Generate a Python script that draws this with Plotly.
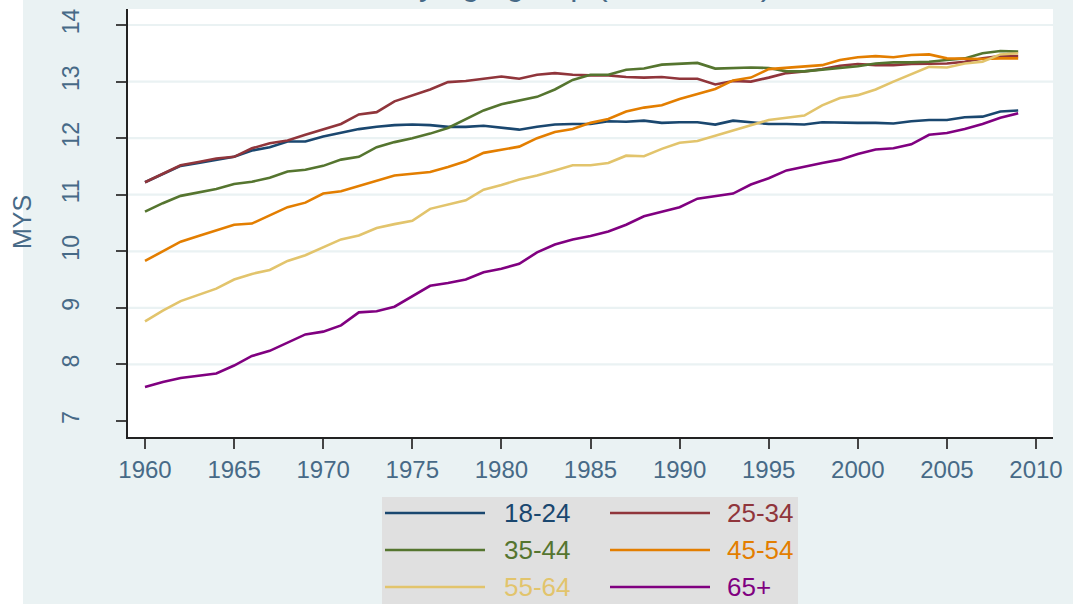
import plotly.graph_objects as go

years = list(range(1960, 2010))

age_groups = ["18-24", "25-34", "35-44", "45-54", "55-64", "65+"]
colors = ["#1A476F", "#90353B", "#55752F", "#E37E00", "#E2C46C", "#800080"]

mys_18_24 = [11.22, 11.37, 11.51, 11.56, 11.61, 11.67, 11.78, 11.84, 11.94, 11.94,
             12.03, 12.10, 12.16, 12.20, 12.23, 12.24, 12.23, 12.20, 12.20, 12.22,
             12.18, 12.15, 12.20, 12.24, 12.25, 12.25, 12.30, 12.29, 12.31, 12.27,
             12.28, 12.28, 12.24, 12.31, 12.28, 12.25, 12.25, 12.24, 12.28, 12.27,
             12.27, 12.27, 12.26, 12.30, 12.32, 12.32, 12.37, 12.38, 12.47, 12.49]
mys_25_34 = [11.22, 11.37, 11.52, 11.58, 11.64, 11.67, 11.82, 11.91, 11.96, 12.06,
             12.16, 12.25, 12.42, 12.46, 12.65, 12.75, 12.86, 12.99, 13.01, 13.05,
             13.09, 13.05, 13.12, 13.15, 13.12, 13.11, 13.11, 13.08, 13.07, 13.08,
             13.05, 13.05, 12.95, 13.01, 13.00, 13.07, 13.15, 13.18, 13.22, 13.28,
             13.31, 13.29, 13.29, 13.31, 13.31, 13.32, 13.35, 13.41, 13.45, 13.45]
mys_35_44 = [10.70, 10.85, 10.98, 11.04, 11.10, 11.19, 11.23, 11.30, 11.41, 11.44,
             11.51, 11.62, 11.67, 11.84, 11.93, 12.00, 12.08, 12.18, 12.33, 12.49,
             12.60, 12.66, 12.73, 12.86, 13.03, 13.12, 13.12, 13.21, 13.23, 13.30,
             13.31, 13.33, 13.23, 13.24, 13.25, 13.24, 13.18, 13.18, 13.21, 13.24,
             13.27, 13.32, 13.34, 13.34, 13.35, 13.38, 13.41, 13.50, 13.54, 13.53]
mys_45_54 = [9.83, 10.00, 10.17, 10.27, 10.37, 10.47, 10.49, 10.63, 10.78, 10.86,
             11.02, 11.06, 11.15, 11.25, 11.34, 11.37, 11.40, 11.49, 11.59, 11.74,
             11.80, 11.85, 12.00, 12.11, 12.16, 12.27, 12.34, 12.47, 12.54, 12.58,
             12.69, 12.78, 12.87, 13.02, 13.07, 13.22, 13.24, 13.26, 13.29, 13.38,
             13.43, 13.45, 13.43, 13.47, 13.48, 13.41, 13.40, 13.40, 13.41, 13.41]
mys_55_64 = [8.76, 8.95, 9.12, 9.23, 9.34, 9.50, 9.60, 9.67, 9.83, 9.93,
             10.07, 10.21, 10.28, 10.41, 10.48, 10.54, 10.75, 10.83, 10.90, 11.09,
             11.17, 11.27, 11.34, 11.43, 11.52, 11.52, 11.56, 11.69, 11.68, 11.81,
             11.92, 11.95, 12.04, 12.13, 12.23, 12.32, 12.36, 12.40, 12.58, 12.71,
             12.76, 12.86, 13.00, 13.13, 13.26, 13.25, 13.32, 13.35, 13.48, 13.50]
mys_65_plus = [7.60, 7.69, 7.76, 7.80, 7.84, 7.98, 8.15, 8.24, 8.38, 8.53,
               8.58, 8.69, 8.92, 8.94, 9.02, 9.20, 9.39, 9.44, 9.50, 9.63,
               9.69, 9.78, 9.98, 10.12, 10.21, 10.27, 10.35, 10.47, 10.62, 10.70,
               10.78, 10.93, 10.97, 11.02, 11.18, 11.29, 11.43, 11.50, 11.56, 11.62,
               11.72, 11.80, 11.82, 11.89, 12.06, 12.09, 12.16, 12.25, 12.36, 12.44]

series = [mys_18_24, mys_25_34, mys_35_44, mys_45_54, mys_55_64, mys_65_plus]

x_ticks = [1960, 1965, 1970, 1975, 1980, 1985, 1990, 1995, 2000, 2005, 2010]
y_ticks = [7, 8, 9, 10, 11, 12, 13, 14]

title_text = "MYS by age group (1960-2009)"
y_title = "MYS"

# ---- layout geometry (pixels) ----
W, H = 1073, 604
L, R, T, B = 128, 1053, 9, 437
BG = "#EAF2F3"
TXT = "#476A87"
FONT = "Liberation Sans, Arial, sans-serif"


def px(xp):
    return (xp - L) / (R - L)


def py(yp):
    return (B - yp) / (B - T)


fig = go.Figure()
for name, vals, col in zip(age_groups, series, colors):
    fig.add_trace(go.Scatter(x=years, y=vals, mode="lines", name=name,
                             line=dict(color=col, width=2.6), showlegend=False))

shapes = []
# white strip at far left (outside the graph region)
shapes.append(dict(type="rect", xref="paper", yref="paper",
                   x0=px(-20), x1=px(23), y0=py(H + 20), y1=py(-20),
                   fillcolor="white", line=dict(width=0), layer="below"))
# horizontal gridlines (not at the bottom tick)
for v in y_ticks[1:]:
    shapes.append(dict(type="line", xref="paper", yref="y", x0=0, x1=1, y0=v, y1=v,
                       line=dict(color=BG, width=2.2), layer="below"))

# legend box
shapes.append(dict(type="rect", xref="paper", yref="paper",
                   x0=px(382), x1=px(798), y0=py(640), y1=py(497),
                   fillcolor="#E0E0E0", line=dict(width=0), layer="below"))

annotations = []
row_y = [513, 550, 587]
col_line = [(385, 485, 502), (610, 710, 725)]
for i, (name, col) in enumerate(zip(age_groups, colors)):
    r, c = divmod(i, 2)
    x0, x1, xt = col_line[c]
    yy = py(row_y[r])
    shapes.append(dict(type="line", xref="paper", yref="paper",
                       x0=px(x0), x1=px(x1), y0=yy, y1=yy,
                       line=dict(color=col, width=2.6)))
    annotations.append(dict(xref="paper", yref="paper", x=px(xt), y=yy,
                            text=name, showarrow=False, xanchor="left", yanchor="middle",
                            font=dict(family=FONT, size=26, color=col)))

# y axis title
annotations.append(dict(xref="paper", yref="paper", x=px(22), y=py(222),
                        text=y_title, showarrow=False, textangle=-90,
                        xanchor="center", yanchor="middle",
                        font=dict(family=FONT, size=25, color=TXT)))
# title (mostly cut off at the top of the image)
annotations.append(dict(xref="paper", yref="paper", x=px(547), y=py(4),
                        text=title_text, showarrow=False,
                        xanchor="center", yanchor="bottom",
                        font=dict(family=FONT, size=32, color=TXT)))

fig.update_layout(
    width=W, height=H,
    margin=dict(l=L, r=W - R, t=T, b=H - B, pad=0),
    paper_bgcolor=BG, plot_bgcolor="white",
    font=dict(family=FONT, color=TXT),
    shapes=shapes, annotations=annotations,
    showlegend=False,
)
fig.update_xaxes(range=[1959.046, 2010.954], tickvals=x_ticks, ticks="outside",
                 ticklen=10, tickwidth=1.5, tickcolor="#444444",
                 showline=True, linecolor="#222222", linewidth=1.5,
                 showgrid=False, zeroline=False,
                 tickfont=dict(family=FONT, size=24, color=TXT))
fig.update_yaxes(range=[6.717, 14.283], tickvals=y_ticks, ticks="outside",
                 ticklen=10, tickwidth=1.5, tickcolor="#444444",
                 showline=True, linecolor="#222222", linewidth=1.5,
                 showgrid=False, zeroline=False, tickangle=-90,
                 ticklabelstandoff=28,
                 tickfont=dict(family=FONT, size=23, color=TXT))

fig.write_html("out.html", config={"displayModeBar": False},
               post_script="document.body.style.margin='0';document.body.style.overflow='hidden';")
